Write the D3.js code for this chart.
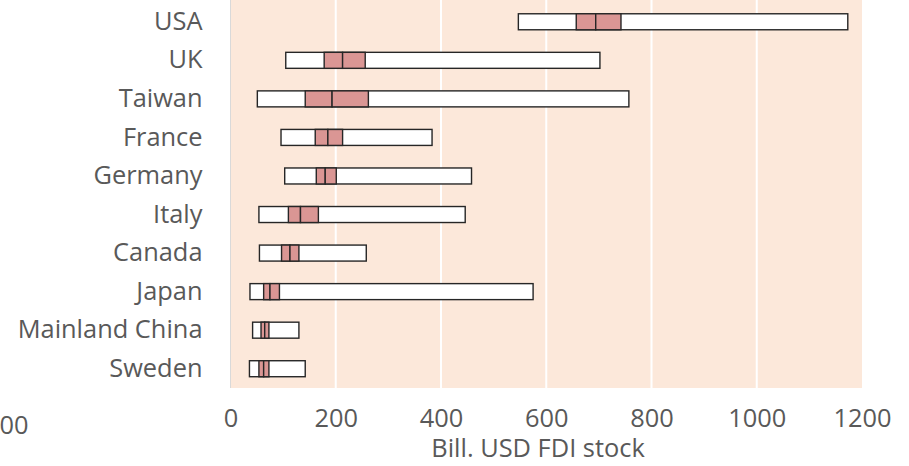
<!DOCTYPE html>
<html>
<head>
<meta charset="utf-8">
<script src="https://cdn.jsdelivr.net/npm/d3@7"></script>
<style>
  html, body { margin: 0; padding: 0; background: #ffffff; }
  svg { display: block; }
  text { font-family: "Open Sans", "Liberation Sans", sans-serif; fill: #595959; }
</style>
</head>
<body>
<svg id="chart" width="909" height="466"></svg>
<script>
const categories = ["USA", "UK", "Taiwan", "France", "Germany", "Italy", "Canada", "Japan", "Mainland China", "Sweden"];
const minValues    = [547, 105,  51,  96, 103,  54,  55,  37,  42,  36];
const q1Values     = [657, 178, 142, 161, 163, 110,  97,  63,  58,  54];
const medianValues = [694, 213, 193, 185, 180, 133, 113,  75,  65,  63];
const q3Values     = [742, 256, 262, 213, 201, 167, 130,  93,  73,  73];
const maxValues    = [1173, 702, 757, 383, 458, 446, 258, 575, 130, 142];
const xTicks = [0, 200, 400, 600, 800, 1000, 1200];
const xTitle = "Bill. USD FDI stock";
const strayLabel = "00";

(function () {
const svg = d3.select("#chart");
const plotLeft = 230.5, plotRight = 862, plotTop = 2.5, plotBottom = 388;
const fontSize = "25.4px";
const fontFamily = '"Open Sans", "Liberation Sans", sans-serif';

const x = d3.scaleLinear().domain([0, 1200]).range([plotLeft, plotRight]);
const y = d3.scaleBand().domain(categories).range([plotTop, plotBottom]).paddingInner(0.585).paddingOuter(0.2925);

svg.append("rect").attr("x", plotLeft).attr("y", 0).attr("width", plotRight - plotLeft).attr("height", plotBottom)
  .attr("fill", "#fce8da");

svg.append("g").selectAll("line").data(xTicks.filter(d => d > 0 && d < 1200)).join("line")
  .attr("x1", d => x(d)).attr("x2", d => x(d)).attr("y1", 0).attr("y2", plotBottom)
  .attr("stroke", "#ffffff").attr("stroke-width", 2);

svg.append("line").attr("x1", plotLeft).attr("x2", plotLeft).attr("y1", 0).attr("y2", plotBottom)
  .attr("stroke", "#d9d9d9").attr("stroke-width", 1);

const rows = categories.map((c, i) => ({
  c, min: minValues[i], q1: q1Values[i], med: medianValues[i], q3: q3Values[i], max: maxValues[i]
}));

const g = svg.append("g");
const bh = y.bandwidth();
g.selectAll("rect.range").data(rows).join("rect").attr("class", "range")
  .attr("x", d => x(d.min)).attr("y", d => y(d.c))
  .attr("width", d => x(d.max) - x(d.min)).attr("height", bh)
  .attr("fill", "#ffffff").attr("stroke", "#262626").attr("stroke-width", 1.4);
g.selectAll("rect.lower").data(rows).join("rect").attr("class", "lower")
  .attr("x", d => x(d.q1)).attr("y", d => y(d.c))
  .attr("width", d => x(d.med) - x(d.q1)).attr("height", bh)
  .attr("fill", "#da9694").attr("stroke", "#262626").attr("stroke-width", 1.4);
g.selectAll("rect.upper").data(rows).join("rect").attr("class", "upper")
  .attr("x", d => x(d.med)).attr("y", d => y(d.c))
  .attr("width", d => x(d.q3) - x(d.med)).attr("height", bh)
  .attr("fill", "#da9694").attr("stroke", "#262626").attr("stroke-width", 1.4);

const yAxis = svg.append("g").attr("transform", `translate(${plotLeft},0)`)
  .call(d3.axisLeft(y).tickSize(0).tickPadding(28));
yAxis.select(".domain").remove();
yAxis.selectAll("text").style("font-size", fontSize).attr("fill", "#595959").style("font-family", fontFamily);

const xAxis = svg.append("g").attr("transform", `translate(0,${plotBottom})`)
  .call(d3.axisBottom(x).tickValues(xTicks).tickFormat(d3.format("d")).tickSize(0).tickPadding(21));
xAxis.select(".domain").remove();
xAxis.selectAll("text").style("font-size", fontSize).attr("fill", "#595959").style("font-family", fontFamily);

svg.append("text").attr("x", 14).attr("y", 434).attr("text-anchor", "middle")
  .style("font-size", fontSize).text(strayLabel);

svg.append("text").attr("x", 538).attr("y", 457)
  .attr("text-anchor", "middle").style("font-size", fontSize).text(xTitle);
})();
</script>
</body>
</html>
